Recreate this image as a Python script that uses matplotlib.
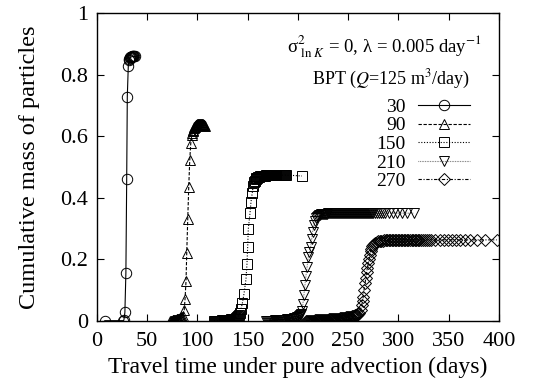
import matplotlib
matplotlib.use("Agg")
import matplotlib.pyplot as plt

plt.rcParams['font.family'] = ['Liberation Serif', 'DejaVu Serif']
plt.rcParams['mathtext.fontset'] = 'stix'

# breakthrough curves, one per pumping interval
t30 = [8, 26.5, 27, 28, 29, 29.8, 30.4, 31.4, 32, 32.5, 33, 33.5, 34, 34.5,
       35, 35.5, 36, 36.5, 37, 38]
m30 = [0, 0, 0.002, 0.027, 0.156, 0.46, 0.729, 0.83, 0.848, 0.853, 0.855,
       0.857, 0.858, 0.859, 0.859, 0.86, 0.86, 0.86, 0.86, 0.86]

t90 = [73, 73.5, 74, 74.5, 75, 75.5, 76, 76.5, 77, 77.5, 78, 78.5, 79, 79.5,
       80, 80.5, 81, 81.5, 82, 82.5, 83, 83.5, 84, 84.5, 85.5, 87, 87.8, 88.8,
       89.5, 90.5, 91.5, 92.5, 93.5, 94.5, 95, 95.5, 96, 96.5, 97, 97.5, 98,
       98.5, 99, 99.5, 100, 100.5, 101, 101.5, 102, 102.5, 103, 103.5, 104,
       104.5, 105, 105.5, 106, 106.5, 107, 107.5]
m90 = [0, 0, 0, 0, 0, 0.001, 0.001, 0.001, 0.002, 0.002, 0.002, 0.003, 0.003,
       0.004, 0.004, 0.005, 0.005, 0.006, 0.007, 0.008, 0.009, 0.01, 0.011,
       0.013, 0.015, 0.035, 0.07, 0.13, 0.22, 0.33, 0.436, 0.523, 0.577, 0.604,
       0.612, 0.618, 0.622, 0.626, 0.629, 0.632, 0.634, 0.636, 0.637, 0.638,
       0.639, 0.64, 0.64, 0.641, 0.641, 0.641, 0.641, 0.64, 0.64, 0.64, 0.639,
       0.639, 0.638, 0.637, 0.636, 0.635]

t150 = [116.6, 117.5, 118.5, 119.5, 120.5, 121.5, 122.5, 123.5, 124.5, 125.5,
        126.5, 127.5, 128.5, 129.5, 130.5, 131.5, 132.5, 133.5, 134.5, 135.5,
        136.5, 137.5, 138.5, 139.5, 140.5, 141.5, 142.5, 143.5, 144.8, 146.4,
        148.4, 149.4, 150.1, 150.7, 152.4, 153.4, 154.7, 155.7, 156.5, 157.3,
        158, 158.8, 159.5, 160.5, 161.5, 162.5, 163.5, 164.5, 165.5, 166.5,
        167.5, 168.5, 169.5, 170.5, 171.5, 172.5, 173.5, 174.5, 175.5, 176.5,
        177.5, 178.5, 179.5, 180.5, 181.5, 182.5, 183.5, 184.5, 185.5, 186.5,
        187.5, 188.5, 204]
m150 = [0, 0, 0, 0, 0, 0, 0, 0, 0.001, 0.001, 0.001, 0.001, 0.002, 0.002,
        0.002, 0.003, 0.003, 0.004, 0.004, 0.005, 0.006, 0.007, 0.009, 0.011,
        0.014, 0.018, 0.025, 0.038, 0.057, 0.087, 0.135, 0.185, 0.241, 0.298,
        0.35, 0.387, 0.417, 0.44, 0.45, 0.456, 0.461, 0.464, 0.466, 0.468,
        0.469, 0.47, 0.471, 0.471, 0.472, 0.472, 0.472, 0.473, 0.473, 0.473,
        0.473, 0.473, 0.473, 0.474, 0.474, 0.474, 0.474, 0.474, 0.474, 0.474,
        0.474, 0.474, 0.474, 0.474, 0.474, 0.474, 0.474, 0.474, 0.471]

t210 = [168, 169, 170, 171, 172, 173, 174, 175, 176, 177, 178, 179, 180, 181,
        182, 183, 184, 185, 186, 187, 188, 189, 190, 191, 192, 193, 194, 195,
        196, 197, 198, 199, 200, 201, 202, 203, 203.8, 205, 206, 207, 208,
        209.2, 210.4, 211.5, 212.7, 213.7, 214.7, 215.8, 217, 218, 219, 220,
        221, 222, 223, 224, 225, 226, 227, 228, 229, 230, 231, 232, 233, 234,
        235, 236, 237, 238, 239, 240, 241, 242, 243, 244, 245, 246, 247, 248,
        249, 250, 251, 252, 253, 254, 255, 256, 257, 258, 259, 260, 261, 262,
        263, 264, 265, 266, 267, 268, 269, 270, 271, 272, 273, 274, 275, 277,
        279, 281, 283, 285, 287, 291, 295, 299, 303.5, 309, 315]
m210 = [0, 0, 0, 0, 0, 0, 0, 0, 0, 0.001, 0.001, 0.001, 0.001, 0.001, 0.002,
        0.002, 0.002, 0.002, 0.003, 0.003, 0.003, 0.004, 0.004, 0.005, 0.005,
        0.006, 0.006, 0.007, 0.008, 0.009, 0.01, 0.011, 0.012, 0.014, 0.017,
        0.022, 0.03, 0.055, 0.084, 0.115, 0.145, 0.175, 0.208, 0.225, 0.24,
        0.265, 0.29, 0.31, 0.326, 0.334, 0.339, 0.342, 0.344, 0.345, 0.346,
        0.347, 0.347, 0.348, 0.348, 0.348, 0.348, 0.349, 0.349, 0.349, 0.349,
        0.349, 0.349, 0.349, 0.349, 0.349, 0.35, 0.35, 0.35, 0.35, 0.35, 0.35,
        0.35, 0.35, 0.35, 0.35, 0.35, 0.35, 0.35, 0.35, 0.35, 0.35, 0.35, 0.35,
        0.35, 0.35, 0.35, 0.35, 0.35, 0.35, 0.35, 0.35, 0.35, 0.35, 0.35, 0.35,
        0.35, 0.35, 0.35, 0.35, 0.35, 0.35, 0.35, 0.35, 0.35, 0.35, 0.35, 0.35,
        0.35, 0.35, 0.35, 0.35, 0.35, 0.35, 0.35]

t270 = [208, 209, 210, 211, 212, 213, 214, 215, 216, 217, 218, 219, 220, 221,
        222, 223, 224, 225, 226, 227, 228, 229, 230, 231, 232, 233, 234, 235,
        236, 237, 238, 239, 240, 241, 242, 243, 244, 245, 246, 247, 248, 249,
        250, 251, 252, 253, 254, 255, 256, 257, 258, 259, 260, 261, 262.3,
        263.5, 264.3, 265, 265.8, 266.8, 267.6, 268.4, 269.2, 270, 270.8, 271.7,
        272.4, 273, 274, 275, 276, 277, 278.5, 280, 281.5, 283, 284.5, 286,
        287.5, 289, 290.5, 292, 293.5, 295, 296.5, 298, 299.5, 301, 302.5, 304,
        305.5, 307, 308.5, 310, 311.5, 313, 314.5, 316, 317.5, 319, 320.5, 322,
        324, 326, 328, 330, 332, 336, 341, 345, 349, 353, 357, 361, 366, 371,
        378, 386, 397.7]
m270 = [0, 0, 0, 0, 0, 0, 0, 0, 0, 0.001, 0.001, 0.001, 0.001, 0.001, 0.002,
        0.002, 0.002, 0.002, 0.002, 0.003, 0.003, 0.003, 0.003, 0.004, 0.004,
        0.004, 0.005, 0.005, 0.005, 0.006, 0.006, 0.006, 0.007, 0.007, 0.008,
        0.008, 0.009, 0.009, 0.01, 0.01, 0.011, 0.011, 0.012, 0.012, 0.013,
        0.013, 0.014, 0.015, 0.016, 0.017, 0.018, 0.02, 0.022, 0.025, 0.035,
        0.05, 0.065, 0.078, 0.1, 0.122, 0.14, 0.16, 0.173, 0.187, 0.2, 0.215,
        0.226, 0.234, 0.242, 0.247, 0.251, 0.254, 0.257, 0.259, 0.26, 0.261,
        0.261, 0.262, 0.262, 0.262, 0.262, 0.263, 0.263, 0.263, 0.263, 0.263,
        0.263, 0.263, 0.263, 0.263, 0.263, 0.263, 0.263, 0.263, 0.263, 0.263,
        0.263, 0.263, 0.263, 0.263, 0.263, 0.263, 0.263, 0.263, 0.263, 0.263,
        0.263, 0.263, 0.263, 0.263, 0.263, 0.263, 0.263, 0.263, 0.263, 0.263,
        0.263, 0.263, 0.263]

series = [
    ("30", t30, m30, 'o', '-', 'black'),
    ("90", t90, m90, '^', (0, (3, 1.5)), 'black'),
    ("150", t150, m150, 's', (0, (1, 1.5)), 'black'),
    ("210", t210, m210, 'v', (0, (0.6, 0.9)), '#555555'),
    ("270", t270, m270, 'D', (0, (3, 1.5, 1, 1.5)), 'black'),
]

fig = plt.figure(figsize=(5.48, 3.83), dpi=100)
ax = fig.add_axes([0.1765, 0.1627, 0.7341, 0.8021])

for lab, t, m, mk, ls, lc in series:
    ms = 6.0 if mk == 'D' else 7.5
    ax.plot(t, m, linestyle=ls, color=lc, linewidth=0.8, marker=mk,
            markersize=ms, markerfacecolor='none', markeredgecolor='black',
            markeredgewidth=0.7, label=lab)

ax.set_xlim(0, 400)
ax.set_ylim(0, 1)
ax.set_xticks(range(0, 401, 50))
ax.set_yticks([0, 0.2, 0.4, 0.6, 0.8, 1])
ax.set_yticklabels(["0", "0.2", "0.4", "0.6", "0.8", "1"])
ax.tick_params(direction='in', top=True, right=True, length=5, width=0.8,
               labelsize=16)
ax.tick_params(axis='x', pad=8)
ax.tick_params(axis='y', pad=6)
for sp in ax.spines.values():
    sp.set_linewidth(1.0)

ax.set_xlabel("Travel time under pure advection (days)", fontsize=17,
              labelpad=4)
ax.set_ylabel("Cumulative mass of particles", fontsize=17.5, labelpad=15)

ax.text(0.958, 0.892, r"σ$^{2}_{\ \mathrm{ln}\ K}$ = 0, λ = 0.005 day$^{-1}$",
        transform=ax.transAxes, ha='right', va='center', fontsize=13.5)
ax.text(0.928, 0.785, r"BPT ($Q$=125 m$^3$/day)",
        transform=ax.transAxes, ha='right', va='center', fontsize=13)

ax.legend(loc='upper right', bbox_to_anchor=(0.928, 0.724), frameon=False,
          markerfirst=False, fontsize=14, handlelength=2.7, handletextpad=0.6,
          labelspacing=0.05, borderpad=0, borderaxespad=0)

fig.savefig("out.png", dpi=100)
